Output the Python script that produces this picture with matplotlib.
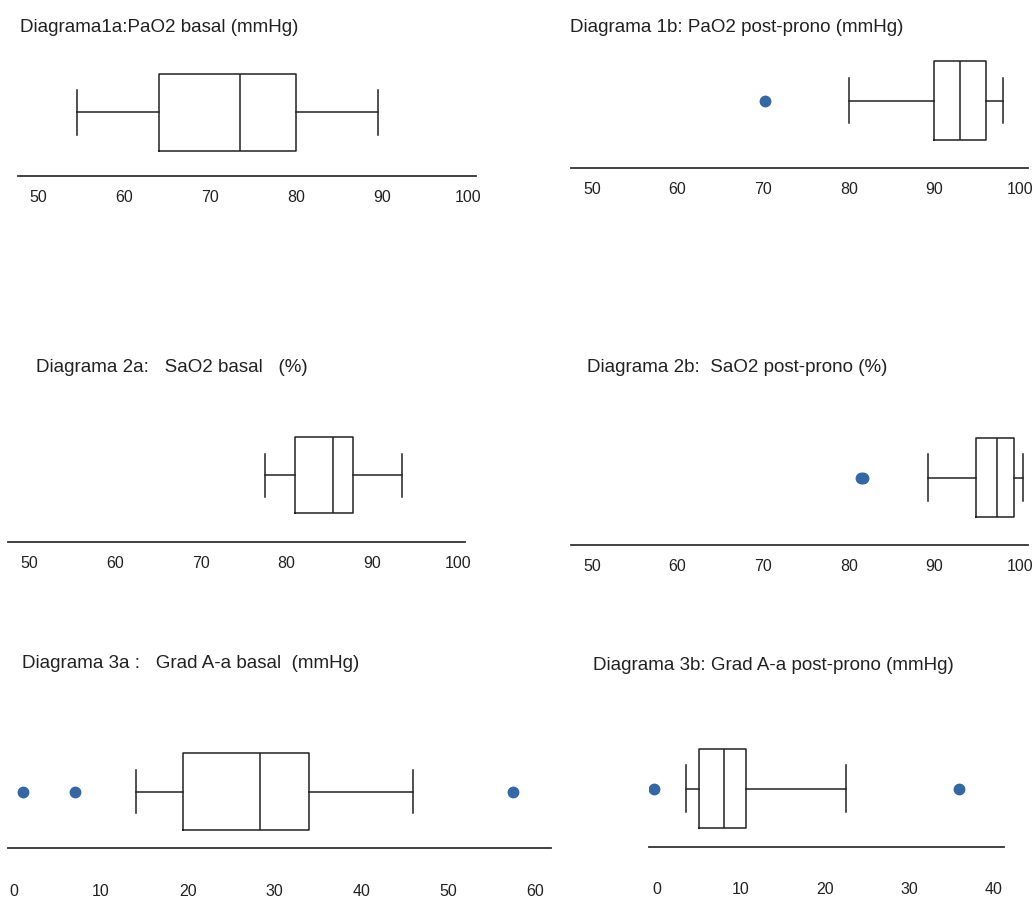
import matplotlib
matplotlib.use("Agg")
import matplotlib.pyplot as plt

# five-number summaries: whisker low, Q1, median, Q3, whisker high
pao2_basal = [54.5, 64, 73.5, 80, 89.5]
pao2_basal_out = []
pao2_prono = [80, 90, 93, 96, 98]
pao2_prono_out = [70.2]
sao2_basal = [77.5, 81, 85.4, 87.8, 93.5]
sao2_basal_out = []
sao2_prono = [89.2, 94.8, 97.3, 99.3, 100.3]
sao2_prono_out = [81.4, 81.7]
grad_basal = [14, 19.5, 28.3, 34, 46]
grad_basal_out = [1, 7, 57.5]
grad_prono = [3.5, 5, 8, 10.6, 22.5]
grad_prono_out = [-0.3, 36]

titles = ["Diagrama1a:PaO2 basal (mmHg)",
          "Diagrama 1b: PaO2 post-prono (mmHg)",
          "Diagrama 2a:   SaO2 basal   (%)",
          "Diagrama 2b:  SaO2 post-prono (%)",
          "Diagrama 3a :   Grad A-a basal  (mmHg)",
          "Diagrama 3b: Grad A-a post-prono (mmHg)"]
ticks_sat = [50, 60, 70, 80, 90, 100]
ticks_grad_basal = [0, 10, 20, 30, 40, 50, 60]
ticks_grad_prono = [0, 10, 20, 30, 40]

W, H = 1034, 902
fig = plt.figure(figsize=(W / 100, H / 100), dpi=100)

# layout in pixels: x0, x1, axis line y, box centre y, box height, cap height, title x, title y, xlim, label pad
panels = [
    (pao2_basal, pao2_basal_out, ticks_sat, (18, 476, 176, 112, 77, 45, 20, 27, (47.6, 100.93), 10)),
    (pao2_prono, pao2_prono_out, ticks_sat, (571, 1028, 168, 100.5, 79, 45, 570, 27, (47.55, 100.93), 10)),
    (sao2_basal, sao2_basal_out, ticks_sat, (8, 465, 542, 475, 76, 43, 36, 368, (47.55, 100.8), 10)),
    (sao2_prono, sao2_prono_out, ticks_sat, (571, 1028, 545, 477.5, 79, 46, 587, 368, (47.55, 100.93), 10)),
    (grad_basal, grad_basal_out, ticks_grad_basal, (8, 551, 848, 791.5, 77, 43, 22, 663, (-0.69, 61.84), 26)),
    (grad_prono, grad_prono_out, ticks_grad_prono, (649, 1004, 847, 788.5, 79, 47, 593, 665, (-0.95, 41.3), 25)),
]

line_col = "#222222"
dot_col = "#3467a6"
fam = ["Liberation Sans", "DejaVu Sans"]

for i, (vals, outs, ticks, lay) in enumerate(panels):
    x0, x1, ly, cy, bh, ch, tx, ty, xl, pad = lay
    top = cy - bh / 2 - 12
    ax = fig.add_axes([x0 / W, 1 - ly / H, (x1 - x0) / W, (ly - top) / H])
    ax.set_ylim(0, ly - top)
    ax.set_xlim(*xl)
    stats = [dict(whislo=vals[0], q1=vals[1], med=vals[2], q3=vals[3],
                  whishi=vals[4], fliers=outs)]
    ax.bxp(stats, positions=[ly - cy], widths=bh, capwidths=ch,
           orientation="horizontal", manage_ticks=False,
           boxprops=dict(color=line_col, linewidth=1.1),
           whiskerprops=dict(color=line_col, linewidth=1.1),
           capprops=dict(color=line_col, linewidth=1.1),
           medianprops=dict(color=line_col, linewidth=1.1),
           flierprops=dict(marker="o", markersize=7.5, markerfacecolor=dot_col,
                           markeredgecolor=dot_col))
    for s in ["top", "left", "right"]:
        ax.spines[s].set_visible(False)
    ax.spines["bottom"].set_color("#333333")
    ax.spines["bottom"].set_linewidth(1.3)
    ax.set_yticks([])
    ax.set_xticks(ticks)
    ax.tick_params(axis="x", length=0, pad=pad, labelsize=11.5, labelcolor="#222222")
    for lab in ax.get_xticklabels():
        lab.set_family(fam)
    fig.text(tx / W, 1 - ty / H, titles[i], ha="left", va="center", fontsize=13.5,
             color="#222222", family=fam)

fig.savefig("out.png", dpi=100)
